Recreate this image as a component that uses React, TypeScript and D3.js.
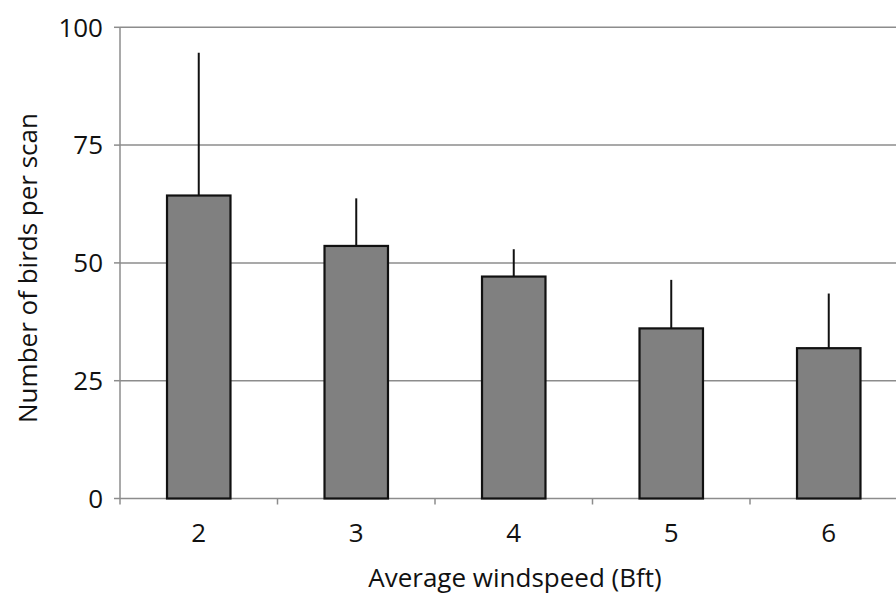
import React from "react";
import * as d3 from "d3";

const categories = ["2", "3", "4", "5", "6"];
const means = [64.3, 53.6, 47.1, 36.1, 31.9];
const upperErrors = [94.6, 63.7, 52.9, 46.4, 43.5];
const yTicks = [0, 25, 50, 75, 100];

const W = 896;
const H = 595;
const left = 120;
const right = 907.5;
const top = 27.3;
const bottom = 498.5;
const FONT = "'Open Sans', 'Liberation Sans', sans-serif";
const FS = 26;

export default function App() {
  const x = d3.scaleBand<string>().domain(categories).range([left, right]).padding(0);
  const y = d3.scaleLinear().domain([0, 100]).range([bottom, top]);
  const barW = x.bandwidth() * 0.403;
  const boundaries = categories.slice(1).map((c) => x(c) as number);

  return (
    <svg
      width={W}
      height={H}
      style={{ position: "absolute", left: 0, top: 0, background: "#fff" }}
      fontFamily={FONT}
    >
      {yTicks.filter((t) => t > 0).map((t) => (
        <line key={t} x1={left} x2={W} y1={y(t)} y2={y(t)} stroke="#8c8c8c" strokeWidth={1.5} />
      ))}
      {yTicks.map((t) => (
        <g key={t}>
          <line x1={left - 6} x2={left} y1={y(t)} y2={y(t)} stroke="#8c8c8c" strokeWidth={1.5} />
          <text x={103} y={y(t)} dy="0.36em" textAnchor="end" fontSize={FS} fill="#111">
            {t}
          </text>
        </g>
      ))}
      <line x1={left} x2={W} y1={bottom} y2={bottom} stroke="#8c8c8c" strokeWidth={1.5} />
      {[left, ...boundaries].map((b, i) => (
        <line key={i} x1={b} x2={b} y1={bottom} y2={bottom + 6} stroke="#8c8c8c" strokeWidth={1.5} />
      ))}
      <line x1={left} x2={left} y1={top} y2={bottom} stroke="#8c8c8c" strokeWidth={1.5} />
      {categories.map((c, i) => {
        const cx = (x(c) as number) + x.bandwidth() / 2;
        return (
          <line key={c} x1={cx} x2={cx} y1={y(means[i])} y2={y(upperErrors[i])} stroke="#111" strokeWidth={2} />
        );
      })}
      {categories.map((c, i) => {
        const cx = (x(c) as number) + x.bandwidth() / 2;
        return (
          <rect
            key={c}
            x={cx - barW / 2}
            y={y(means[i])}
            width={barW}
            height={bottom - y(means[i])}
            fill="#808080"
            stroke="#111"
            strokeWidth={2.2}
          />
        );
      })}
      {categories.map((c) => (
        <text
          key={c}
          x={(x(c) as number) + x.bandwidth() / 2}
          y={542}
          textAnchor="middle"
          fontSize={FS}
          fill="#111"
        >
          {c}
        </text>
      ))}
      <text x={515} y={587} textAnchor="middle" fontSize={FS} fill="#111">
        Average windspeed (Bft)
      </text>
      <text
        transform={`translate(28,268) rotate(-90)`}
        dy="0.36em"
        textAnchor="middle"
        fontSize={FS}
        fill="#111"
      >
        Number of birds per scan
      </text>
    </svg>
  );
}
